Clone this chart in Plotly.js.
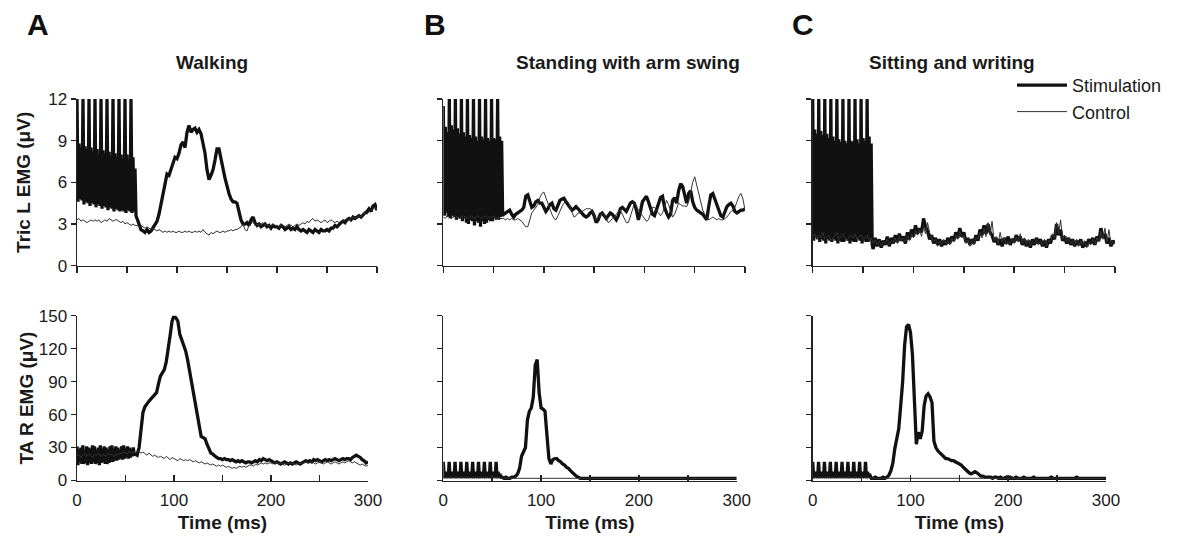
<!DOCTYPE html>
<html>
<head>
<meta charset="utf-8">
<script src="https://cdn.plot.ly/plotly-3.0.1.min.js"></script>
<style>html,body{margin:0;padding:0;background:#fff}#chart{width:1178px;height:543px}</style>
</head>
<body>
<div id="chart"></div>
<script>
// Time axis (ms) for the control traces, sampled every 2 ms
const timeMs = [
0,2,4,6,8,10,12,14,16,18,
20,22,24,26,28,30,32,34,36,38,
40,42,44,46,48,50,52,54,56,58,
60,62,64,66,68,70,72,74,76,78,
80,82,84,86,88,90,92,94,96,98,
100,102,104,106,108,110,112,114,116,118,
120,122,124,126,128,130,132,134,136,138,
140,142,144,146,148,150,152,154,156,158,
160,162,164,166,168,170,172,174,176,178,
180,182,184,186,188,190,192,194,196,198,
200,202,204,206,208,210,212,214,216,218,
220,222,224,226,228,230,232,234,236,238,
240,242,244,246,248,250,252,254,256,258,
260,262,264,266,268,270,272,274,276,278,
280,282,284,286,288,290,292,294,296,298,
300];
// Time axis (ms) for the stimulation traces: 1 ms during the stimulus train, then 2 ms
const stimTimeMs = [
0,1,2,3,4,5,6,7,8,9,10,11,12,13,14,15,16,17,18,19,
20,21,22,23,24,25,26,27,28,29,30,31,32,33,34,35,36,37,38,39,
40,41,42,43,44,45,46,47,48,49,50,51,52,53,54,55,56,57,58,59,
60,62,64,66,68,70,72,74,76,78,
80,82,84,86,88,90,92,94,96,98,
100,102,104,106,108,110,112,114,116,118,
120,122,124,126,128,130,132,134,136,138,
140,142,144,146,148,150,152,154,156,158,
160,162,164,166,168,170,172,174,176,178,
180,182,184,186,188,190,192,194,196,198,
200,202,204,206,208,210,212,214,216,218,
220,222,224,226,228,230,232,234,236,238,
240,242,244,246,248,250,252,254,256,258,
260,262,264,266,268,270,272,274,276,278,
280,282,284,286,288,290,292,294,296,298,
300];

const panelTitles = ["Walking", "Standing with arm swing", "Sitting and writing"];
const panelLetters = ["A", "B", "C"];
const seriesNames = ["Stimulation", "Control"];

// A: Walking – Tric L EMG (µV)
const walkTricStim = [
12,4.6,8.8,4.8,8.5,4.7, 12,4.4,8.6,4.6,8.4,4.5, 12,4.3,8.5,4.5,8.2,4.4, 12,4.2,
8.4,4.4,8.0,4.3, 12,4.1,8.3,4.3,8.1,4.2, 12,4.0,8.2,4.2,7.9,4.1, 12,3.9,8.1,4.1,
7.8,4.0, 12,3.9,8.0,4.0,7.7,3.9, 12,3.8,8.0,4.0,7.6,3.9, 12,3.8,7.8,3.9,7.0,3.6,
3.4,2.9,2.6,2.5,2.4,2.6,2.4,2.5,2.7,2.9,
3.2,3.7,4.4,5.2,6.0,6.6,6.5,6.9,7.4,7.8,
7.7,8.1,8.7,8.9,8.5,9.6,10.1,9.6,9.8,9.9,
9.6,9.8,9.5,8.9,8.1,6.9,6.2,6.5,6.9,7.6,
8.4,8.4,7.8,7.0,6.3,5.7,5.2,4.8,4.6,4.6,
4.5,3.9,3.3,3.0,3.0,3.1,2.9,3.3,3.5,3.1,
2.9,3.0,2.8,2.9,3.0,2.8,2.9,2.7,2.9,2.8,
2.8,2.7,2.9,2.8,2.6,2.7,2.8,2.6,2.7,2.6,
2.8,2.6,2.5,2.6,2.5,2.4,2.6,2.5,2.4,2.6,
2.5,2.4,2.6,2.5,2.5,2.6,2.5,2.7,2.7,2.9,
2.8,3.0,3.1,3.2,3.1,3.3,3.4,3.3,3.5,3.4,
3.5,3.6,3.5,3.7,3.8,3.9,4.1,3.9,4.3,4.4,
4.0];
const walkTricCtrl = [
3.3,3.4,3.2,3.3,3.2,3.1,3.2,3.3,3.2,3.3,
3.2,3.3,3.1,3.2,3.3,3.2,3.4,3.3,3.2,3.3,
3.3,3.2,3.1,3.2,3.0,3.1,3.0,2.9,3.0,2.9,
2.9,2.8,2.9,2.8,2.7,2.8,2.7,2.6,2.7,2.6,
2.5,2.6,2.5,2.4,2.5,2.4,2.5,2.4,2.5,2.4,
2.4,2.5,2.4,2.4,2.5,2.4,2.5,2.4,2.4,2.5,
2.4,2.5,2.4,2.6,2.4,2.3,2.2,2.4,2.3,2.4,
2.5,2.4,2.4,2.5,2.4,2.5,2.5,2.6,2.5,2.6,
2.6,2.7,2.8,3.0,2.6,2.5,2.9,3.0,3.2,2.9,
3.0,2.9,3.0,3.1,2.9,3.0,2.8,2.9,3.0,2.9,
2.9,2.8,3.0,2.9,2.8,2.9,3.0,2.9,2.8,2.9,
3.0,2.9,3.0,3.1,3.0,3.2,3.1,3.3,3.4,3.2,
3.3,3.2,3.1,3.2,3.3,3.1,3.2,3.3,3.2,3.1,
3.2,3.1,3.2,3.3,3.3,3.4,3.3,3.4,3.5,3.4,
3.5,3.6,3.5,3.7,3.8,3.7,3.9,4.0,4.1,4.2,
4.1];

// A: Walking – TA R EMG (µV)
const walkTAStim = [
31,14,28,17,30,15, 32,15,27,16,31,14, 30,16,29,15,32,17, 31,15,
28,16,30,14, 32,16,29,17,31,15, 30,15,28,16,31,17, 32,17,29,18,
31,18, 30,19,28,20,31,19, 32,20,29,21,31,20, 30,21,28,22,30,23,
24,23,30,46,62,67,70,72,74,76,
78,80,88,95,98,101,108,118,132,145,
150,148,145,133,128,124,118,110,100,91,
80,69,58,47,40,39,38,33,28,25,
24,22,21,20,20,19,20,19,19,18,
19,18,17,18,17,18,17,16,17,17,
16,17,18,17,19,18,20,19,18,19,
18,17,16,17,16,15,16,17,16,15,
16,15,16,17,16,15,16,17,18,17,
18,17,19,18,19,18,17,18,19,18,
19,18,19,20,19,18,19,20,19,20,
20,19,21,22,23,22,21,19,18,16,
17];
const walkTACtrl = [
22,24,21,23,25,22,24,23,21,24,
23,25,22,24,23,22,25,23,24,22,
24,23,25,24,26,25,24,27,25,26,
25,27,26,25,26,24,23,25,23,22,
23,22,21,22,21,20,22,20,19,21,
20,19,18,20,19,18,19,18,19,18,
17,18,17,16,17,16,15,16,15,14,
15,14,13,14,13,14,13,12,13,12,
11,12,11,12,13,12,13,12,13,14,
14,13,15,14,15,16,15,16,15,16,
16,15,17,16,15,16,15,14,15,16,
15,16,15,14,15,16,15,16,17,16,
16,17,16,15,16,17,16,15,16,17,
16,15,16,17,16,15,16,17,16,17,
18,17,16,17,16,15,14,15,14,13,
14];

// B: Standing with arm swing – Tric L EMG (µV)
const standTricStim = [
11.5,3.6,10.0,3.8,9.6,3.5, 12,3.4,10.1,3.6,9.8,3.5, 12,3.3,9.9,3.5,9.5,3.4, 12,3.2,
9.6,3.4,9.3,3.1, 12,3.0,9.4,3.3,9.2,3.2, 12,2.9,9.3,3.2,9.0,3.1, 12,2.8,9.3,3.2,
9.1,3.0, 12,3.1,9.2,3.3,9.0,3.2, 12,3.2,9.2,3.4,9.1,3.3, 12,3.3,9.3,3.5,9.0,3.6,
3.7,3.8,3.9,4.0,3.7,3.5,3.7,3.8,3.9,4.0,
4.2,5.0,5.1,4.6,4.2,4.3,4.6,4.7,4.5,4.5,
4.2,3.9,4.1,4.4,4.5,4.1,4.0,4.4,4.7,4.8,
4.85,4.6,4.4,4.2,4.0,4.1,4.25,4.1,3.9,3.8,
3.6,3.5,3.6,3.8,3.9,3.6,3.1,3.3,3.7,3.8,
3.6,3.4,3.6,3.8,3.7,3.5,3.3,3.6,4.1,4.2,
4.0,3.9,4.2,4.5,4.6,4.5,4.0,3.3,3.9,4.6,
4.8,5.0,4.6,4.2,3.7,3.6,4.0,4.5,4.9,5.0,
4.2,3.8,3.5,3.7,4.7,4.9,4.5,5.4,5.9,5.7,
5.0,4.5,5.2,5.4,4.6,4.2,4.0,3.9,3.8,3.7,
3.5,3.3,4.3,5.1,5.2,4.8,4.5,4.1,3.6,3.5,
3.9,4.25,4.4,4.5,4.3,3.9,3.8,3.9,4.0,4.0,
4.1];
const standTricCtrl = [
3.5,3.4,3.6,3.5,3.4,3.5,3.6,3.5,3.4,3.5,
3.6,3.5,3.4,3.5,3.6,3.4,3.5,3.6,3.5,3.4,
3.5,3.6,3.4,3.5,3.5,3.6,3.4,3.5,3.4,3.4,
3.4,3.3,3.4,3.3,3.4,3.3,3.3,3.4,3.3,3.2,
3.0,2.8,2.8,3.3,3.8,4.0,4.2,4.4,4.9,5.2,
5.3,4.9,4.4,4.0,3.7,3.4,3.3,3.6,4.0,4.25,
4.5,4.7,4.6,4.2,3.8,3.5,3.6,3.8,3.8,3.9,
4.0,4.1,4.1,4.1,4.0,3.6,3.3,3.4,3.6,3.8,
3.7,3.4,3.1,3.2,3.4,3.5,3.7,3.9,4.0,3.7,
3.4,3.1,3.1,3.5,4.0,4.5,4.3,4.0,3.8,3.6,
3.4,3.2,3.3,3.7,4.2,4.2,4.0,3.8,3.6,3.8,
4.3,4.7,4.4,3.9,3.5,3.7,4.1,4.5,4.4,4.3,
4.3,4.25,4.6,5.4,6.0,6.4,5.8,5.2,4.6,4.0,
3.7,3.5,3.3,3.4,3.5,3.4,3.3,3.4,3.3,3.3,
3.4,3.5,3.7,3.9,4.0,4.2,4.6,5.0,5.2,4.8,
4.0];

// B: Standing with arm swing – TA R EMG (µV)
const standTAStim = [
17,2,8,3,7.5,2.5, 17,2,8,3,7,2.5, 17,2,8,3,7.5,2.5, 17,2,
8,3,7,2.5, 17,2,8,3,7.5,2.5, 17,2,8,3,7,2.5, 17,2,8,3,
7.5,2.5, 17,2,8,3,7,2.5, 17,2,8,3,7.5,2.5, 17,2,8,3,6,3,
3,2,3,2,2,3,3,4,6,11,
22,27,30,55,63,66,76,105,110,80,
66,65,63,41,20,15,19,20,20,18,
17,15,14,12,11,9,7,5,4,3,
2,2,2,2,2,2,2,2,2,2,
2,2,2,2,2,2,2,2,2,2,
2,2,2,2,2,2,2,2,2,2,
2,2,2,2,2,2,2,2,2,2,
2,2,2,2,2,2,2,2,2,2,
2,2,2,2,2,2,2,2,2,2,
2,2,2,2,2,2,2,2,2,2,
2,2,2,2,2,2,2,2,2,2,
2];
const standTACtrl = [
3,3,2,3,3,2,3,3,2,3,
3,2,3,3,2,3,3,2,3,3,
2,3,3,2,3,3,2,3,3,2,
2,2,2,2,2,2,2,2,2,2,
2,2,2,2,2,2,2,2,2,2,
2,2,2,2,2,2,2,2,2,2,
2,2,2,2,2,2,2,2,2,2,
2,2,2,2,2,2,2,2,2,2,
2,2,2,2,2,2,2,2,2,2,
2,2,2,2,2,2,2,2,2,2,
2,2,2,2,2,2,2,2,2,2,
2,2,2,2,2,2,2,2,2,2,
2,2,2,2,2,2,2,2,2,2,
2,2,2,2,2,2,2,2,2,2,
2,2,2,2,2,2,2,2,2,2,
2];

// C: Sitting and writing – Tric L EMG (µV)
const sitTricStim = [
12,1.8,9.8,2.0,9.5,1.9, 12,1.7,9.7,1.9,9.4,1.8, 12,1.6,9.5,1.9,9.2,1.8, 12,1.7,
9.3,1.9,9.0,1.8, 12,1.6,9.1,1.8,8.9,1.7, 12,1.7,9.0,1.9,8.8,1.8, 12,1.6,9.0,1.8,
8.9,1.7, 12,1.7,9.1,1.9,8.8,1.8, 12,1.6,9.2,1.8,9.0,1.7, 12,1.7,9.3,1.8,8.8,1.5,
1.2,2.0,1.4,1.9,1.3,1.8,1.5,2.1,1.4,2.0,
1.6,2.2,1.7,2.3,1.8,2.1,1.6,2.4,1.9,2.6,
2.1,2.9,2.3,2.7,2.4,3.4,2.8,2.5,1.9,2.2,
1.6,2.0,1.5,1.9,1.4,1.8,1.5,2.0,1.6,2.1,
1.8,2.4,2.0,2.7,2.1,2.4,1.7,2.0,1.5,1.9,
1.6,2.2,1.8,2.6,2.2,2.9,2.3,3.0,2.4,2.2,
1.7,2.0,1.5,1.9,1.4,2.0,1.6,2.1,1.5,1.9,
1.7,2.2,1.8,2.1,1.5,1.9,1.4,1.8,1.3,1.9,
1.5,2.0,1.6,1.9,1.4,1.8,1.3,1.9,1.6,2.2,
1.9,3.0,2.2,2.6,1.8,2.1,1.6,2.0,1.5,1.9,
1.4,1.8,1.5,1.9,1.3,1.7,1.4,1.9,1.6,2.0,
1.5,2.1,1.8,2.7,2.0,2.3,1.6,2.0,1.4,1.8,
1.6];
const sitTricCtrl = [
2.1,2.3,1.9,2.2,2.0,2.4,1.9,2.1,2.2,1.8,
2.0,2.2,2.4,1.9,2.1,2.3,2.0,1.8,2.1,2.2,
2.0,2.3,1.9,2.1,2.2,1.9,2.0,2.2,1.8,2.0,
1.6,1.9,1.5,1.8,1.4,1.7,1.6,1.9,1.5,1.8,
1.7,2.0,1.6,2.1,1.8,2.0,1.7,2.2,1.8,2.3,
2.0,2.5,2.2,2.6,2.1,2.8,2.3,3.1,2.4,2.0,
1.7,1.9,1.4,1.8,1.5,1.9,1.6,1.8,1.5,2.0,
1.7,2.2,1.9,2.5,2.0,2.2,1.6,1.9,1.4,1.8,
1.5,2.0,1.9,2.4,2.0,2.7,2.1,3.1,2.2,3.2,
1.8,2.1,1.6,2.4,1.7,2.0,1.5,1.8,1.6,2.0,
1.6,2.1,1.7,2.3,1.6,2.0,1.5,1.9,1.4,1.8,
1.6,1.9,1.5,1.8,1.5,1.9,1.4,1.8,1.7,2.3,
2.0,3.1,2.3,3.3,1.9,2.2,1.7,2.0,1.6,1.8,
1.5,1.9,1.4,1.8,1.5,1.8,1.3,1.7,1.5,1.9,
1.6,2.0,1.7,2.5,1.9,2.7,1.7,2.6,1.5,1.7,
1.7];

// C: Sitting and writing – TA R EMG (µV)
const sitTAStim = [
17,2,8,3,7.5,2.5, 17,2,8,3,7,2.5, 17,2,8,3,7.5,2.5, 17,2,
8,3,7,2.5, 17,2,8,3,7.5,2.5, 17,2,8,3,7,2.5, 17,2,8,3,
7.5,2.5, 17,2,8,3,7,2.5, 17,2,8,3,7.5,2.5, 17,2,8,3,6,3,
2,2,3,2,2,2,3,2,3,5,
9,16,29,38,47,68,90,123,140,142,
135,115,70,33,44,38,45,68,77,79,
76,71,36,30,27,25,23,21,20,20,
19,18,18,17,16,15,14,12,10,9,
7,6,7,8,7,5,4,4,3,3,
3,3,2,3,3,2,3,2,2,3,
2,3,2,2,3,2,2,2,3,2,
2,2,2,3,2,2,2,2,2,2,
2,2,3,2,2,2,2,2,2,2,
2,2,2,2,2,3,2,2,2,2,
2,2,2,2,2,2,2,2,2,2,
2];
const sitTACtrl = [
3,3,2,3,3,2,3,3,2,3,
3,2,3,3,2,3,3,2,3,3,
2,3,3,2,3,3,2,3,3,2,
2,2,2,2,2,2,2,2,2,2,
2,2,2,2,2,2,2,2,2,2,
2,2,2,2,2,2,2,2,2,2,
2,2,2,2,2,2,2,2,2,2,
2,2,2,2,2,2,2,2,2,2,
2,2,2,2,2,2,2,2,2,2,
2,2,2,2,2,2,2,2,2,2,
2,2,2,2,2,2,2,2,2,2,
2,2,2,2,2,2,2,2,2,2,
2,2,2,2,2,2,2,2,2,2,
2,2,2,2,2,2,2,2,2,2,
2,2,2,2,2,2,2,2,2,2,
2];

const tricTicks = [0, 3, 6, 9, 12];
const taTicks = [0, 30, 60, 90, 120, 150];
const timeTicks = [0, 50, 100, 150, 200, 250, 300];
const timeTickText = ["0", "", "100", "", "200", "", "300"];

// ---------- layout geometry (pixels -> paper) ----------
const W = 1178, H = 543;
const px = v => v / W;
const py = v => 1 - v / H;

const stimLine = {color: "#111", width: 3.3};
const ctrlLine = {color: "#333", width: 1};

const pairs = [
  [walkTricStim, walkTricCtrl, "x", "y"],
  [walkTAStim, walkTACtrl, "x2", "y2"],
  [standTricStim, standTricCtrl, "x3", "y3"],
  [standTAStim, standTACtrl, "x4", "y4"],
  [sitTricStim, sitTricCtrl, "x5", "y5"],
  [sitTAStim, sitTACtrl, "x6", "y6"]
];
const data = [];
pairs.forEach((p, i) => {
  data.push({x: stimTimeMs, y: p[0], xaxis: p[2], yaxis: p[3], type: "scatter", mode: "lines",
    name: seriesNames[0], showlegend: i === 0, line: stimLine, hoverinfo: "skip"});
});
pairs.forEach((p, i) => {
  data.push({x: timeMs, y: p[1], xaxis: p[2], yaxis: p[3], type: "scatter", mode: "lines",
    name: seriesNames[1], showlegend: i === 0, line: ctrlLine, hoverinfo: "skip"});
});

const axisCommon = {
  showline: true, linecolor: "#222", linewidth: 1.5, showgrid: false, zeroline: false,
  tickcolor: "#222", tickwidth: 1.5, fixedrange: true
};
const topY = [py(265.7), py(99)];
const botY = [py(480.5), py(315.7)];

function xTop(d, anchor) {
  return Object.assign({}, axisCommon, {domain: d, anchor: anchor, range: [0, 300],
    tickmode: "array", tickvals: timeTicks, ticks: "outside", ticklen: 6, showticklabels: false});
}
function xBot(d, anchor) {
  return Object.assign({}, axisCommon, {domain: d, anchor: anchor, range: [0, 300],
    tickmode: "array", tickvals: timeTicks, ticktext: timeTickText, ticks: "inside", ticklen: 6,
    ticklabelstandoff: 4,
    title: {text: "<b>Time (ms)</b>", font: {size: 19}, standoff: 6}});
}
function yTop(anchor, labels) {
  const o = Object.assign({}, axisCommon, {domain: topY, anchor: anchor, range: [0, 12],
    tickmode: "array", tickvals: tricTicks, ticks: "outside", ticklen: 5, showticklabels: labels});
  if (labels) o.title = {text: "<b>Tric L EMG (μV)</b>", font: {size: 19}, standoff: 12};
  return o;
}
function yBot(anchor, labels) {
  const o = Object.assign({}, axisCommon, {domain: botY, anchor: anchor, range: [0, 150],
    tickmode: "array", tickvals: taTicks, ticks: "outside", ticklen: 5, showticklabels: labels});
  if (labels) o.title = {text: "<b>TA R EMG (μV)</b>", font: {size: 19}, standoff: 0};
  return o;
}

const annotations = [];
const letterX = [38, 435, 803];
const titleX = [212, 628, 952];
for (let i = 0; i < 3; i++) {
  annotations.push({text: "<b>" + panelLetters[i] + "</b>", xref: "paper", yref: "paper",
    x: px(letterX[i]), y: py(25), xanchor: "center", yanchor: "middle", showarrow: false,
    font: {size: 30, color: "#111"}});
  annotations.push({text: "<b>" + panelTitles[i] + "</b>", xref: "paper", yref: "paper",
    x: px(titleX[i]), y: py(62), xanchor: "center", yanchor: "middle", showarrow: false,
    font: {size: 19, color: "#1a1a1a"}});
}

const layout = {
  width: W, height: H, margin: {l: 0, r: 0, t: 0, b: 0}, autosize: false,
  paper_bgcolor: "#fff", plot_bgcolor: "rgba(0,0,0,0)",
  font: {family: "Liberation Sans, Arial, sans-serif", size: 17, color: "#1a1a1a"},
  showlegend: true,
  legend: {x: px(1012), y: py(67), xanchor: "left", yanchor: "top", font: {size: 18},
    bgcolor: "rgba(0,0,0,0)", borderwidth: 0, tracegroupgap: 0, itemwidth: 50},
  xaxis: xTop([px(77), px(377)], "y"),
  yaxis: yTop("x", true),
  xaxis2: xBot([px(77), px(368)], "y2"),
  yaxis2: yBot("x2", true),
  xaxis3: xTop([px(443.3), px(745)], "y3"),
  yaxis3: yTop("x3", false),
  xaxis4: xBot([px(443.3), px(736.7)], "y4"),
  yaxis4: yBot("x4", false),
  xaxis5: xTop([px(812.7), px(1115)], "y5"),
  yaxis5: yTop("x5", false),
  xaxis6: xBot([px(812.7), px(1106)], "y6"),
  yaxis6: yBot("x6", false),
  annotations: annotations
};

Plotly.newPlot("chart", data, layout, {staticPlot: true, displayModeBar: false});
</script>
</body>
</html>
